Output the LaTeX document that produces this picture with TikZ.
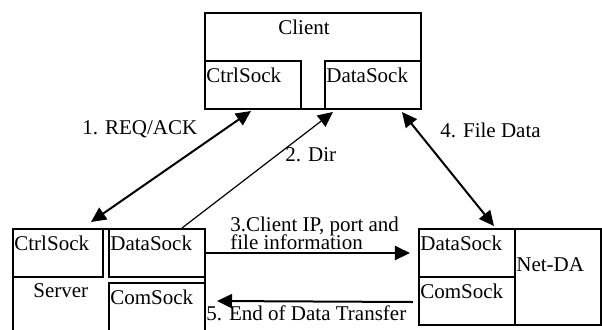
\documentclass[tikz,border=0pt]{standalone}
\usepackage{fontspec}
\setmainfont{Liberation Serif}
\usetikzlibrary{arrows.meta}

\begin{document}
\begin{tikzpicture}[x=0.5pt,y=-0.5pt,
  font=\fontsize{10.5}{12}\selectfont,
  box/.style={draw,line width=1pt,anchor=north west,inner sep=0pt},
  sock/.style={box,text width=46.6pt,inner xsep=0.7pt,align=left,
               text height=10.5pt,text depth=13.5pt},
  txt/.style={anchor=base west,inner sep=0pt},
  ar/.style={line width=1pt,-{Triangle[length=7.5pt,width=7pt]}},
  dar/.style={ar,{Triangle[length=7.5pt,width=7pt]}-{Triangle[length=7.5pt,width=7pt]}}
]
\useasboundingbox (0,0) rectangle (602,329);
\clip (0,0) rectangle (602,329);

% client
\node[box,minimum width=108pt,minimum height=48pt] (client) at (204,12) {};
\node[txt] (clientlbl) at (278,34) {Client};
\node[sock] (cctrl) at (204,60) {CtrlSock};
\node[sock] (cdata) at (324,60) {DataSock};

% server
\node[box,minimum width=96pt,minimum height=60pt] (server) at (12,228) {};
\node[txt] (serverlbl) at (33,297) {Server};
\node[sock,text width=43.6pt] (sctrl) at (12,228) {CtrlSock};
\node[sock] (sdata) at (108,228) {DataSock};
\node[sock,text depth=20pt] (scom) at (108,282) {ComSock};

% net-da
\node[box,minimum width=91pt,minimum height=48pt] (netda) at (418,228) {};
\node[txt] (netdalbl) at (516,271) {Net-DA};
\node[sock] (ndata) at (418,228) {DataSock};
\node[sock] (ncom) at (418,276) {ComSock};

% messages
\draw[dar] ([xshift=-1pt,yshift=-0.5pt]cctrl.south) -- ([xshift=-6.5pt,yshift=3pt]sctrl.north east);
\draw[ar,line width=0.6pt] ([xshift=-12pt]sdata.north east) -- ([xshift=4.5pt,yshift=-1pt]cdata.south west);
\draw[dar] ([xshift=-10pt,yshift=-1pt]cdata.south east) -- ([xshift=-11pt,yshift=1pt]ndata.north east);
\draw[ar] (sdata.east) -- ([xshift=-4pt]ndata.west);
\draw[ar] ([xshift=-2.5pt,yshift=-0.5pt]ncom.west) -- ([xshift=5.5pt,yshift=-9.5pt]scom.north east);

\node[txt] (l1) at (82,134) {1. REQ/ACK};
\node[txt] (l2) at (285,161) {2. Dir};
\node[txt] (l3a) at (230,231) {3.Client IP, port and};
\node[txt] (l3b) at (230,249) {file information};
\node[txt] (l4) at (440,137) {4. File Data};
\node[txt] (l5) at (206,320) {5. End of Data Transfer};
\end{tikzpicture}
\end{document}
